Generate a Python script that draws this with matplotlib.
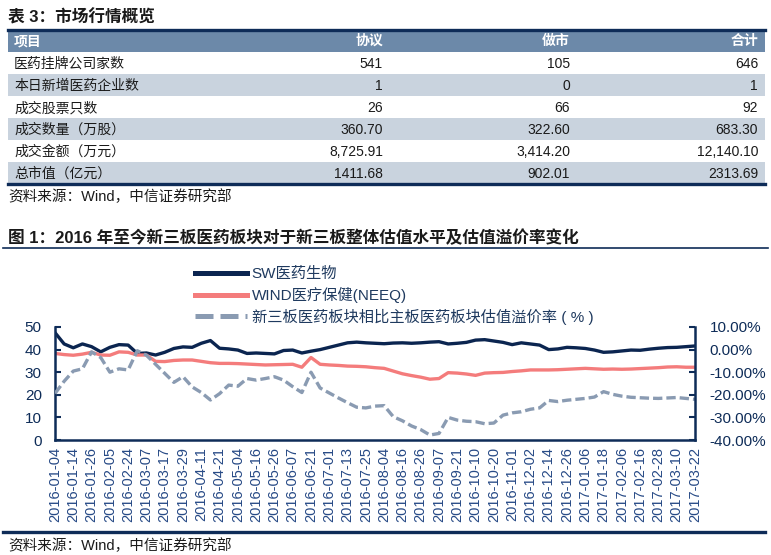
import matplotlib
matplotlib.use("Agg")
import matplotlib.pyplot as plt
from matplotlib.lines import Line2D
from matplotlib.ticker import PercentFormatter
import numpy as np

plt.rcParams['font.family'] = ['Liberation Sans', 'Noto Sans CJK SC']
plt.rcParams['axes.unicode_minus'] = False

# ---------------- data -----------------

table_title = "表 3：市场行情概览"
table_cols = ["项目", "协议", "做市", "合计"]
row_names = ["医药挂牌公司家数", "本日新增医药企业数", "成交股票只数",
             "成交数量（万股）", "成交金额（万元）", "总市值（亿元）"]
xieyi = ["541", "1", "26", "360.70", "8,725.91", "1411.68"]
zuoshi = ["105", "0", "66", "322.60", "3,414.20", "902.01"]
heji = ["646", "1", "92", "683.30", "12,140.10", "2313.69"]

source_text = "资料来源：Wind，中信证券研究部"
chart_title = "图 1：2016 年至今新三板医药板块对于新三板整体估值水平及估值溢价率变化"

tick_dates = ["2016-01-04", "2016-01-14", "2016-01-26", "2016-02-05", "2016-02-24",
              "2016-03-07", "2016-03-17", "2016-03-29", "2016-04-11", "2016-04-21",
              "2016-05-04", "2016-05-16", "2016-05-26", "2016-06-07", "2016-06-21",
              "2016-07-01", "2016-07-13", "2016-07-25", "2016-08-04", "2016-08-16",
              "2016-08-26", "2016-09-07", "2016-09-21", "2016-10-10", "2016-10-20",
              "2016-11-01", "2016-12-02", "2016-12-14", "2016-12-26", "2017-01-06",
              "2017-01-18", "2017-02-06", "2017-02-16", "2017-02-28", "2017-03-10",
              "2017-03-22"]

# two samples per tick interval
sw_pe = [47.5, 42.5, 40.8, 42.5, 41.3, 39.0, 41.0, 42.2, 42.0, 38.3,
         38.5, 37.6, 38.8, 40.5, 41.2, 41.0, 42.8, 44.0, 40.6, 40.3,
         39.8, 38.3, 38.5, 38.3, 38.1, 39.6, 39.8, 38.5, 39.3, 40.0,
         41.0, 42.0, 43.0, 43.3, 43.0, 42.8, 42.6, 42.9, 43.0, 42.8,
         43.0, 43.3, 43.5, 42.5, 42.8, 43.2, 44.2, 44.4, 43.8, 43.2,
         42.2, 43.0, 42.5, 42.0, 40.0, 40.3, 41.0, 40.8, 40.5, 39.8,
         38.8, 39.0, 39.4, 39.8, 39.7, 40.2, 40.6, 40.9, 41.0, 41.3,
         41.6]

wind_pe = [38.3, 37.8, 37.5, 38.0, 38.8, 37.6, 37.5, 39.0, 38.8, 37.6,
           37.6, 34.8, 34.7, 35.2, 35.4, 35.4, 34.8, 34.2, 33.9, 33.9,
           33.8, 33.6, 33.4, 33.2, 33.3, 33.4, 33.5, 32.2, 36.5, 33.5,
           33.2, 33.0, 32.7, 32.6, 32.4, 32.0, 31.7, 30.5, 29.3, 28.5,
           27.8, 26.9, 27.2, 29.8, 29.6, 29.2, 28.6, 29.6, 29.8, 29.9,
           30.3, 30.6, 31.0, 31.0, 31.0, 31.1, 31.3, 31.5, 31.7, 31.5,
           31.3, 31.4, 31.3, 31.4, 31.6, 31.8, 32.0, 32.3, 32.4, 32.2,
           32.2]

premium = [-19.4, -14.0, -9.5, -8.5, -1.0, -3.5, -10.0, -8.5, -9.0, -0.5,
           -2.5, -6.5, -10.5, -14.5, -12.0, -16.5, -19.0, -22.3, -19.5, -15.7,
           -16.2, -12.8, -13.5, -12.8, -12.0, -13.5, -16.4, -19.0, -10.0, -17.0,
           -19.2, -21.4, -23.5, -25.5, -25.8, -25.0, -24.8, -29.7, -31.5, -33.8,
           -35.4, -37.8, -37.1, -30.0, -31.2, -31.7, -31.9, -32.8, -32.5, -29.0,
           -28.0, -27.5, -26.4, -25.8, -22.5, -23.0, -22.4, -22.0, -21.6, -21.0,
           -18.6, -19.8, -20.6, -21.1, -21.3, -21.5, -21.6, -21.4, -21.2, -21.6,
           -22.0]

labels = ["SW医药生物", "WIND医疗保健(NEEQ)", "新三板医药板块相比主板医药板块估值溢价率 ( % )"]

# ---------------- style -----------------

navy = "#0E2C58"
header_bg = "#6C89A9"
shade = "#C9D3DE"
c_sw = "#0B2550"
c_wind = "#F47C7C"
c_prem = "#8A9BB2"
text_dark = "#1A1A1A"
tick_blue = "#274A86"

W, H = 771, 555


def fx(px):
    return px / W


def fy(py):
    return 1 - py / H


fig = plt.figure(figsize=(W / 100, H / 100), dpi=100)

# ---------------- table -----------------

fig.text(fx(8), fy(17), table_title, fontsize=12, weight="bold", color=text_dark, va="center")

n_rows = len(row_names) + 1
tax = fig.add_axes([fx(8), fy(184), fx(765) - fx(8), (184 - 30) / H])
tax.set_xlim(0, 1)
tax.set_ylim(n_rows, 0)
tax.axis("off")
tax.axhspan(0, 1, color=header_bg, lw=0)
for r in range(len(row_names)):
    if r % 2 == 1:
        tax.axhspan(r + 1, r + 2, color=shade, lw=0)
tax.axhline(0, color=navy, lw=2.4, clip_on=False)
tax.axhline(n_rows, color=navy, lw=2.4, clip_on=False)

col_right = [0.4954, 0.7424, 0.9908]
tax.text(0.008, 0.5, table_cols[0], color="white", weight="bold", fontsize=10, va="center")
for cx, name in zip(col_right, table_cols[1:]):
    tax.text(cx, 0.5, name, color="white", weight="bold", fontsize=10, va="center", ha="right")

for r, name in enumerate(row_names):
    yy = r + 1.55
    tax.text(0.008, yy, name, fontsize=10, color=text_dark, va="center")
    for cx, col in zip(col_right, [xieyi, zuoshi, heji]):
        tax.text(cx, yy, col[r], fontsize=10, color=text_dark, va="center", ha="right")

fig.text(fx(8), fy(197), source_text, fontsize=10.5, color=text_dark, va="center")

# ---------------- chart -----------------

fig.text(fx(8), fy(238), chart_title, fontsize=12, weight="bold", color=text_dark, va="center")
fig.add_artist(Line2D([fx(3), fx(768)], [fy(248), fy(248)], color=navy, lw=1.2))

ax = fig.add_axes([fx(55), fy(440), fx(695) - fx(55), (440 - 327) / H])
x = np.arange(len(sw_pe))
ax.plot(x, sw_pe, color=c_sw, lw=2.4, solid_joinstyle="round")
ax.plot(x, wind_pe, color=c_wind, lw=2.4, solid_joinstyle="round")
ax.set_xlim(0, len(sw_pe) - 1)
ax.set_ylim(0, 50)
ax.set_yticks(range(0, 51, 10))
ax.set_xticks(np.arange(0, len(sw_pe), 2))
ax.set_xticklabels(tick_dates, rotation=90)
ax.tick_params(axis="y", direction="in", length=4, width=1.5, color=navy,
               labelsize=11, labelcolor=navy, pad=9.5)
ax.tick_params(axis="x", length=0, labelsize=10.5, labelcolor=tick_blue, pad=5)
for s in ["top", "right"]:
    ax.spines[s].set_visible(False)
for s in ["left", "bottom"]:
    ax.spines[s].set_color(navy)
    ax.spines[s].set_linewidth(1.8)

ax2 = ax.twinx()
ax2.plot(x, premium, color=c_prem, lw=2.4, linestyle=(0, (2.8, 1.2)))
ax2.set_ylim(-40, 10)
ax2.set_yticks(range(-40, 11, 10))
ax2.yaxis.set_major_formatter(PercentFormatter(xmax=100, decimals=2))
ax2.tick_params(axis="y", direction="in", length=4, width=1.5, color=navy,
                labelsize=11, labelcolor=navy, pad=10.5)
for s in ["top", "left", "bottom"]:
    ax2.spines[s].set_visible(False)
ax2.spines["right"].set_color(navy)
ax2.spines["right"].set_linewidth(1.8)

handles = [Line2D([], [], color=c_sw, lw=3.6),
           Line2D([], [], color=c_wind, lw=3.6),
           Line2D([], [], color=c_prem, lw=3.6, linestyle=(0, (3.6, 1.4)))]
fig.legend(handles, labels, loc="upper left", bbox_to_anchor=(fx(195), fy(267)),
           frameon=False, fontsize=11, handlelength=3.4, handletextpad=0.3,
           labelspacing=0.38, borderaxespad=0, borderpad=0, labelcolor="#1F3A5F")

fig.add_artist(Line2D([fx(3), fx(765)], [fy(532), fy(532)], color=navy, lw=2.4))
fig.text(fx(8), fy(546), source_text, fontsize=10.5, color=text_dark, va="center")

fig.savefig("out.png", dpi=100)
